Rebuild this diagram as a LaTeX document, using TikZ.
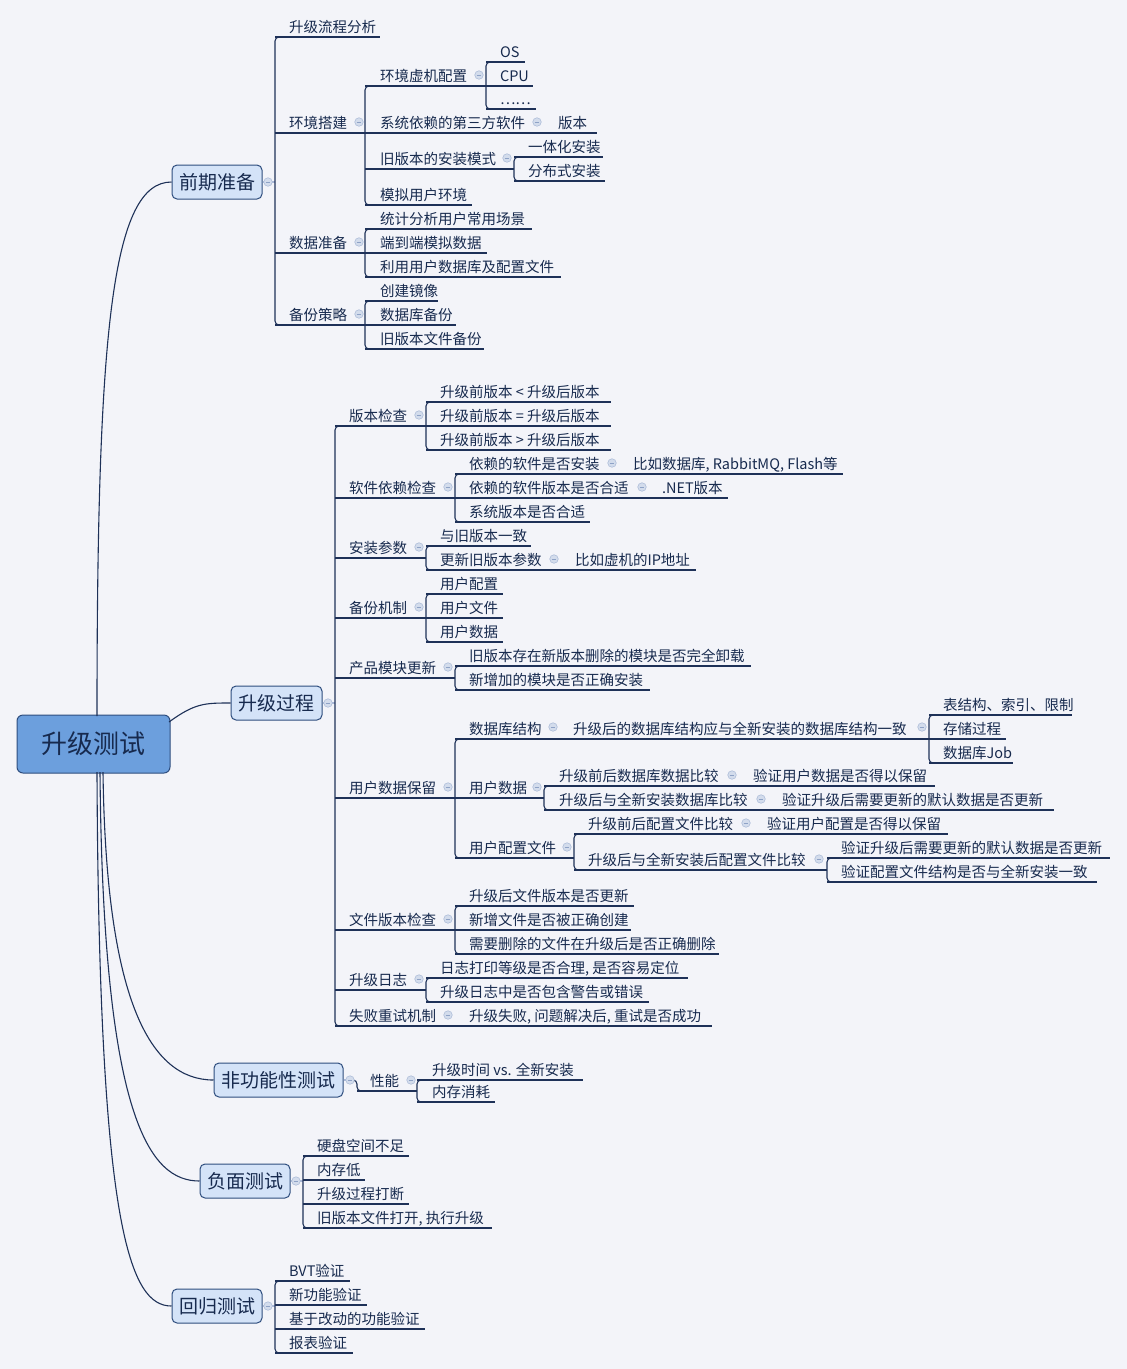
\documentclass[tikz,border=0pt]{standalone}
\usepackage{fontspec}
\setmainfont{Noto Sans CJK SC}
\definecolor{bg}{HTML}{F3F4F9}
\definecolor{ink}{HTML}{172A4E}
\definecolor{lnc}{HTML}{1E3158}
\definecolor{lnlc}{HTML}{A9B7D6}
\definecolor{boxfill}{HTML}{D4E3F8}
\definecolor{boxdraw}{HTML}{2E4D7E}
\definecolor{rootfill}{HTML}{6C9FDD}
\definecolor{ccfill}{HTML}{D3DCEC}
\definecolor{ccdraw}{HTML}{AEBEDA}
\definecolor{ccmin}{HTML}{8EA2C6}
\newcommand\fs{\fontsize{14.5}{17}\selectfont}
\tikzset{
  txt/.style={anchor=base west,inner sep=0pt,outer sep=0pt,font=\fs,text=ink},
  ln/.style={draw=lnc,line width=1.1pt},
  lnl/.style={draw=lnlc,line width=1.1pt},
  crv/.style={draw=lnc,line width=1.1pt},
  mainbox/.style={draw=boxdraw,fill=boxfill,line width=1pt,rounded corners=5pt,minimum height=34pt,inner sep=0pt,text=ink,font=\fontsize{19}{21}\selectfont},
  rootbox/.style={draw=boxdraw,fill=rootfill,line width=1pt,rounded corners=6pt,minimum width=153pt,minimum height=58pt,inner sep=0pt,text=ink,font=\fontsize{26}{28}\selectfont},
  ccirc/.style={circle,draw=ccdraw,fill=ccfill,line width=0.6pt,minimum size=8.5pt,inner sep=0pt},
  mn/.style={draw=ccmin,line width=0.9pt}
}
\newcommand\tp[6]{\node[txt] (#1) at (#2,#3-5) {#6};\draw[ln] (#4,#3) -- (#5,#3);}
\newcommand\spn[3]{\draw[ln,rounded corners=4pt] (#1+8,#2) -- (#1,#2) -- (#1,#3) -- (#1+8,#3);}
\newcommand\colc[3]{\node[ccirc] (#1) at (#2,#3) {};\draw[mn] (#2-2.3,#3) -- (#2+2.3,#3);}
\begin{document}
\begin{tikzpicture}[x=1pt,y=-1pt]
\fill[bg] (0,0) rectangle (1127,1369);
\useasboundingbox (0,0) rectangle (1127,1369);

% ---------- root and main topics
\node[rootbox] (root) at (93.5,744) {升级测试};
\node[mainbox,minimum width=90pt] (qq) at (217,182) {前期准备};
\node[mainbox,minimum width=91pt] (sj) at (276.5,703) {升级过程};
\node[mainbox,minimum width=129pt] (fg) at (278.5,1080) {非功能性测试};
\node[mainbox,minimum width=90pt] (fm) at (245,1181) {负面测试};
\node[mainbox,minimum width=90pt] (hg) at (217,1306) {回归测试};

\coordinate (r1) at (97,716);
\coordinate (r2) at (169,722);
\coordinate (r3) at (103,772);
\coordinate (r4) at (100,772);
\coordinate (r5) at (97,772);
\draw[crv] (r1) .. controls (97,330) and (112,182) .. (qq.west);
\draw[crv] (r2) .. controls (195,703) and (205,703) .. (sj.west);
\draw[crv] (r3) .. controls (106,1000) and (150,1080) .. (fg.west);
\draw[crv] (r4) .. controls (103,1120) and (150,1181) .. (fm.west);
\draw[crv] (r5) .. controls (99,1230) and (130,1306) .. (hg.west);

% ---------- 前期准备
\coordinate (qs) at (275,182);
\draw[lnl] (qq.east) -- (qs);
\colc{cq}{268}{182}
\spn{275}{37}{325}
\tp{a1}{289}{37}{275}{380}{升级流程分析}
\tp{a2}{289}{133}{275}{365}{环境搭建}\colc{ca2}{359}{122}
\spn{365}{86}{205}
\tp{a21}{380}{86}{365}{486}{环境虚机配置}\colc{ca21}{479}{75}
\spn{486}{62}{109}
\tp{a211}{500}{62}{486}{525}{OS}
\tp{a212}{500}{86}{486}{533}{CPU}
\tp{a213}{500}{109}{486}{536}{……}
\tp{a22}{380}{133}{365}{543}{系统依赖的第三方软件}\colc{ca22}{537}{122}
\tp{a221}{558}{133}{543}{597}{版本}
\tp{a23}{380}{169}{365}{514}{旧版本的安装模式}\colc{ca23}{507}{158}
\spn{514}{157}{181}
\tp{a231}{528}{157}{514}{603}{一体化安装}
\tp{a232}{528}{181}{514}{605}{分布式安装}
\tp{a24}{380}{205}{365}{472}{模拟用户环境}
\tp{a3}{289}{253}{275}{365}{数据准备}\colc{ca3}{359}{242}
\spn{365}{229}{277}
\tp{a31}{380}{229}{365}{532}{统计分析用户常用场景}
\tp{a32}{380}{253}{365}{487}{端到端模拟数据}
\tp{a33}{380}{277}{365}{561}{利用用户数据库及配置文件}
\tp{a4}{289}{325}{275}{365}{备份策略}\colc{ca4}{359}{314}
\spn{365}{301}{349}
\tp{a41}{380}{301}{365}{438}{创建镜像}
\tp{a42}{380}{325}{365}{456}{数据库备份}
\tp{a43}{380}{349}{365}{484}{旧版本文件备份}

% ---------- 升级过程
\coordinate (ss) at (335,703);
\draw[lnl] (sj.east) -- (ss);
\colc{cs}{328}{703}
\spn{335}{426}{1026}
\tp{b1}{349}{426}{335}{426}{版本检查}\colc{cb1}{419}{415}
\spn{426}{402}{450}
\tp{b11}{440}{402}{426}{611}{升级前版本 < 升级后版本}
\tp{b12}{440}{426}{426}{611}{升级前版本 = 升级后版本}
\tp{b13}{440}{450}{426}{611}{升级前版本 > 升级后版本}
\tp{b2}{349}{498}{335}{455}{软件依赖检查}\colc{cb2}{448}{487}
\spn{455}{474}{522}
\tp{b21}{469}{474}{455}{619}{依赖的软件是否安装}\colc{cb21}{612}{463}
\tp{b211}{633}{474}{619}{843}{比如数据库, RabbitMQ, Flash等}
\tp{b22}{469}{498}{455}{648}{依赖的软件版本是否合适}\colc{cb22}{642}{487}
\tp{b221}{662}{498}{648}{728}{.NET版本}
\tp{b23}{469}{522}{455}{590}{系统版本是否合适}
\tp{b3}{349}{558}{335}{426}{安装参数}\colc{cb3}{419}{547}
\spn{426}{546}{570}
\tp{b31}{440}{546}{426}{531}{与旧版本一致}
\tp{b32}{440}{570}{426}{561}{更新旧版本参数}\colc{cb32}{554}{559}
\tp{b321}{575}{570}{561}{696}{比如虚机的IP地址}
\tp{b4}{349}{618}{335}{426}{备份机制}\colc{cb4}{419}{607}
\spn{426}{594}{642}
\tp{b41}{440}{594}{426}{503}{用户配置}
\tp{b42}{440}{618}{426}{503}{用户文件}
\tp{b43}{440}{642}{426}{503}{用户数据}
\tp{b5}{349}{678}{335}{455}{产品模块更新}\colc{cb5}{448}{667}
\spn{455}{666}{690}
\tp{b51}{469}{666}{455}{751}{旧版本存在新版本删除的模块是否完全卸载}
\tp{b52}{469}{690}{455}{650}{新增加的模块是否正确安装}
\tp{b6}{349}{798}{335}{455}{用户数据保留}\colc{cb6}{448}{787}
\spn{455}{739}{858}
\tp{b61}{469}{739}{455}{559}{数据库结构}\colc{cb61}{553}{727}
\tp{b611}{573}{739}{559}{929}{升级后的数据库结构应与全新安装的数据库结构一致}\colc{cb611}{922}{727}
\spn{929}{715}{763}
\tp{b6111}{943}{715}{929}{1072}{表结构、索引、限制}
\tp{b6112}{943}{739}{929}{1006}{存储过程}
\tp{b6113}{943}{763}{929}{1013}{数据库Job}
\tp{b62}{469}{798}{455}{544}{用户数据}\colc{cb62}{537}{787}
\spn{544}{786}{810}
\tp{b621}{559}{786}{544}{738}{升级前后数据库数据比较}\colc{cb621}{732}{775}
\tp{b6211}{753}{786}{738}{935}{验证用户数据是否得以保留}
\tp{b622}{559}{810}{544}{767}{升级后与全新安装数据库比较}\colc{cb622}{761}{799}
\tp{b6221}{782}{810}{767}{1054}{验证升级后需要更新的默认数据是否更新}
\tp{b63}{469}{858}{455}{574}{用户配置文件}\colc{cb63}{567}{847}
\spn{574}{834}{870}
\tp{b631}{588}{834}{574}{752}{升级前后配置文件比较}\colc{cb631}{746}{823}
\tp{b6311}{767}{834}{752}{948}{验证用户配置是否得以保留}
\tp{b632}{588}{870}{574}{827}{升级后与全新安装后配置文件比较}\colc{cb632}{819}{859}
\spn{827}{858}{882}
\tp{b6321}{841}{858}{827}{1110}{验证升级后需要更新的默认数据是否更新}
\tp{b6322}{841}{882}{827}{1097}{验证配置文件结构是否与全新安装一致}
\tp{b7}{349}{930}{335}{455}{文件版本检查}\colc{cb7}{448}{919}
\spn{455}{906}{954}
\tp{b71}{469}{906}{455}{634}{升级后文件版本是否更新}
\tp{b72}{469}{930}{455}{631}{新增文件是否被正确创建}
\tp{b73}{469}{954}{455}{719}{需要删除的文件在升级后是否正确删除}
\tp{b8}{349}{990}{335}{426}{升级日志}\colc{cb8}{419}{979}
\spn{426}{978}{1002}
\tp{b81}{440}{978}{426}{688}{日志打印等级是否合理, 是否容易定位}
\tp{b82}{440}{1002}{426}{649}{升级日志中是否包含警告或错误}
\tp{b9}{349}{1026}{335}{455}{失败重试机制}\colc{cb9}{448}{1015}
\tp{b91}{469}{1026}{455}{712}{升级失败, 问题解决后, 重试是否成功}

% ---------- 非功能性测试
\coordinate (fs1) at (354,1080);
\draw[lnl] (fg.east) -- (fs1);
\draw[ln,rounded corners=4pt] (fs1) -- (357,1080) -- (357,1091) -- (366,1091);
\colc{cf}{350}{1080}
\tp{c1}{370}{1091}{357}{417}{性能}\colc{cc1}{411}{1080}
\spn{417}{1080}{1102}
\tp{c11}{432}{1080}{417}{583}{升级时间 vs. 全新安装}
\tp{c12}{432}{1102}{417}{495}{内存消耗}

% ---------- 负面测试
\coordinate (ms) at (303,1181);
\draw[lnl] (fm.east) -- (ms);
\colc{cm}{296}{1181}
\spn{303}{1156}{1228}
\tp{d1}{317}{1156}{303}{409}{硬盘空间不足}
\tp{d2}{317}{1180}{303}{365}{内存低}
\tp{d3}{317}{1204}{303}{409}{升级过程打断}
\tp{d4}{317}{1228}{303}{492}{旧版本文件打开, 执行升级}

% ---------- 回归测试
\coordinate (hs) at (275,1306);
\draw[lnl] (hg.east) -- (hs);
\colc{ch}{268}{1306}
\spn{275}{1281}{1353}
\tp{e1}{289}{1281}{275}{350}{BVT验证}
\tp{e2}{289}{1305}{275}{367}{新功能验证}
\tp{e3}{289}{1329}{275}{425}{基于改动的功能验证}
\tp{e4}{289}{1353}{275}{353}{报表验证}
\end{tikzpicture}
\end{document}
